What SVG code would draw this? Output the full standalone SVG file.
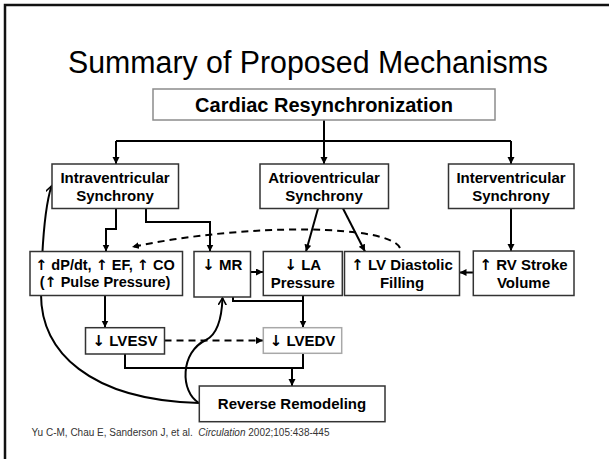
<svg xmlns="http://www.w3.org/2000/svg" width="609" height="459" viewBox="0 0 609 459">
<style>
  .box { fill: #ffffff; stroke: #333333; stroke-width: 1.5; }
  .lbl { font-family: "Liberation Sans", Arial, sans-serif; font-weight: bold; font-size: 15px; fill: #000000; text-anchor: middle; }
  .ar { font-family: "DejaVu Sans", sans-serif; font-weight: bold; fill: #000000; }
  .ln { fill: none; stroke: #000000; stroke-width: 2; }
  .dash { fill: none; stroke: #000000; stroke-width: 2; stroke-dasharray: 7 5; }
</style>
<defs>
  <marker id="ah" markerUnits="userSpaceOnUse" markerWidth="8" markerHeight="8" refX="7" refY="3.5" orient="auto">
    <path d="M0,0 L7,3.5 L0,7 z" fill="#000000"/>
  </marker>
  <marker id="av" markerUnits="userSpaceOnUse" markerWidth="10" markerHeight="10" refX="7" refY="4" orient="auto">
    <path d="M0,0 L7,4 L0,8" fill="none" stroke="#000000" stroke-width="1.6"/>
  </marker>
</defs>
<rect x="0" y="0" width="609" height="459" fill="#ffffff"/>
<path d="M5,459 V5 H609" fill="none" stroke="#111111" stroke-width="2.5"/>
<text x="308" y="72.5" font-family="'Liberation Sans', Arial, sans-serif" font-size="31" text-anchor="middle" textLength="480" lengthAdjust="spacingAndGlyphs" fill="#000000">Summary of Proposed Mechanisms</text>

<g id="connectors">
  <path class="ln" d="M324,120 V141"/>
  <path class="ln" d="M116,141 H511"/>
  <path class="ln" d="M116,141 V164" marker-end="url(#ah)"/>
  <path class="ln" d="M324,141 V164" marker-end="url(#ah)"/>
  <path class="ln" d="M511,141 V164" marker-end="url(#ah)"/>
  <path class="ln" d="M116,208.5 V229 H106 V251.5" marker-end="url(#ah)"/>
  <path class="ln" d="M146,208.5 V222 H210 V251.5" marker-end="url(#ah)"/>
  <path class="ln" d="M318,208.5 L306,251.5" marker-end="url(#ah)"/>
  <path class="ln" d="M343,208.5 L365,251.5" marker-end="url(#ah)"/>
  <path class="ln" d="M511,208.5 V251" marker-end="url(#ah)"/>
  <path class="ln" d="M473,272.5 H459.5" marker-end="url(#ah)"/>
  <path class="ln" d="M250.5,272 H263" marker-end="url(#ah)"/>
  <path class="dash" d="M400,248 C390,225 250,222 132,247" marker-end="url(#ah)"/>
  <path class="ln" d="M233,297 V301 H303"/>
  <path class="ln" d="M303,296 V327.5" marker-end="url(#ah)"/>
  <path class="ln" d="M105,296 V327.5" marker-end="url(#ah)"/>
  <path class="dash" d="M164.5,340.5 H263" marker-end="url(#ah)"/>
  <path class="ln" d="M125,354 V368 H303 V353.5"/>
  <path class="ln" d="M292,368 V386" marker-end="url(#ah)"/>
  <path class="ln" d="M199,403 C90,400 40,352 41,292 C42,240 45,206 51.5,186" marker-end="url(#av)"/>
  <path class="ln" d="M199,403 C180,392 180,352 206,340 C220,333 222,312 222.5,298" marker-end="url(#av)"/>
</g>

<g id="cardiac">
  <rect x="153" y="89" width="342" height="31" fill="#ffffff" stroke="#8c8c8c" stroke-width="1.5"/>
  <text class="lbl" x="324" y="111.5" style="font-size:20px">Cardiac Resynchronization</text>
</g>
<g id="intra">
  <rect class="box" x="52" y="164" width="126.5" height="44.5"/>
  <text class="lbl" x="115" y="183">Intraventricular</text>
  <text class="lbl" x="115" y="200.5">Synchrony</text>
</g>
<g id="atrio">
  <rect class="box" x="260" y="164" width="128.5" height="44.5"/>
  <text class="lbl" x="324" y="183">Atrioventricular</text>
  <text class="lbl" x="324" y="200.5">Synchrony</text>
</g>
<g id="inter">
  <rect class="box" x="448.5" y="164" width="125.5" height="44.5"/>
  <text class="lbl" x="511" y="183">Interventricular</text>
  <text class="lbl" x="511" y="200.5">Synchrony</text>
</g>
<g id="dpdt">
  <rect class="box" x="30" y="251.5" width="152.5" height="44"/>
  <text class="lbl" x="105" y="269.5" style="font-size:14.5px"><tspan class="ar">↑</tspan> dP/dt, <tspan class="ar">↑</tspan> EF, <tspan class="ar">↑</tspan> CO</text>
  <text class="lbl" x="105" y="287" style="font-size:14.5px">(<tspan class="ar">↑</tspan> Pulse Pressure)</text>
</g>
<g id="mr">
  <rect class="box" x="194" y="251.5" width="56.5" height="45.5"/>
  <text class="lbl" x="222.3" y="270"><tspan class="ar">↓</tspan> MR</text>
</g>
<g id="la">
  <rect class="box" x="263.3" y="251.5" width="79" height="44"/>
  <text class="lbl" x="302.8" y="270"><tspan class="ar">↓</tspan> LA</text>
  <text class="lbl" x="302.8" y="287.5">Pressure</text>
</g>
<g id="lvdf">
  <rect class="box" x="344.5" y="251.5" width="115" height="44"/>
  <text class="lbl" x="402" y="269.5"><tspan class="ar">↑</tspan> LV Diastolic</text>
  <text class="lbl" x="402" y="287.5">Filling</text>
</g>
<g id="rvsv">
  <rect class="box" x="473.3" y="251" width="100.7" height="44.5"/>
  <text class="lbl" x="523.5" y="269.5"><tspan class="ar">↑</tspan> RV Stroke</text>
  <text class="lbl" x="523.5" y="287.5">Volume</text>
</g>
<g id="lvesv">
  <rect class="box" x="85.5" y="327.7" width="79" height="26.3"/>
  <text class="lbl" x="125" y="346"><tspan class="ar">↓</tspan> LVESV</text>
</g>
<g id="lvedv">
  <rect x="263.3" y="327.7" width="78.4" height="25.6" fill="#ffffff" stroke="#a8a8a8" stroke-width="1.5"/>
  <text class="lbl" x="302.5" y="346"><tspan class="ar">↓</tspan> LVEDV</text>
</g>
<g id="reverse">
  <rect class="box" x="199.3" y="386" width="185.7" height="35.7"/>
  <text class="lbl" x="292" y="408.5">Reverse Remodeling</text>
</g>
<text x="31.5" y="435.5" font-family="'Liberation Sans', Arial, sans-serif" font-size="10" fill="#333333" xml:space="preserve">Yu C-M, Chau E, Sanderson J, et al.  <tspan font-style="italic">Circulation</tspan> 2002;105:438-445</text>
</svg>
